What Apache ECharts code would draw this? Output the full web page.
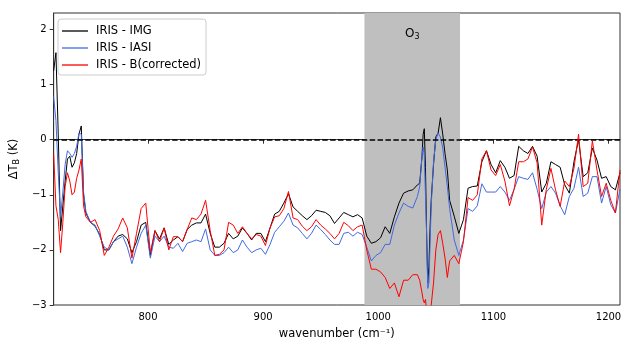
<!DOCTYPE html>
<html>
<head>
<meta charset="utf-8">
<script src="https://cdn.jsdelivr.net/npm/echarts@6/dist/echarts.min.js"></script>
<style>
html, body { margin: 0; padding: 0; background: #fff; }
#main { width: 635px; height: 353px; }
</style>
</head>
<body>
<div id="main"></div>
<script>
// wavenumber grid (cm-1), finer where the spectrum has sharp features
var wavenumber = [718,720,722,724,726,728,730,732,734,736,738,740,742,744,746,
	750,754,758,762,766,770,774,778,782,786,790,794,798,802,806,810,814,818,822,826,
	830,834,838,842,846,850,854,858,862,866,870,874,878,882,886,890,894,898,902,906,
	910,914,918,922,926,930,934,938,942,946,950,954,958,962,966,970,974,978,982,986,
	990,994,998,1002,1006,1010,1014,1018,1022,1026,1030,1034,
	1036,1038,1039,1040,1041,1042,1043,1044,1045,1046,1048,1050,1052,1054,1056,1058,1060,1062,
	1066,1070,1074,1078,1082,1086,1090,1094,1098,1102,1106,1110,1114,1118,1122,1126,1130,1134,
	1138,1142,1146,1150,1154,1158,1162,1166,1170,1174,1178,1182,1186,1190,1194,1198,1202,1206,1210];

var irisImg = [1.25,1.58,0.1,-1.65,-1.2,-0.75,-0.35,-0.3,-0.5,-0.42,-0.25,0.1,0.25,-1.0,-1.33,
	-1.5,-1.57,-1.72,-2.0,-2.0,-1.85,-1.75,-1.72,-1.8,-2.05,-1.85,-1.55,-1.5,-2.1,-1.65,-1.8,-1.6,-1.9,-1.82,-1.76,
	-1.85,-1.63,-1.55,-1.51,-1.51,-1.35,-1.7,-1.95,-1.95,-1.88,-1.7,-1.8,-1.75,-1.6,-1.7,-1.82,-1.7,-1.7,-1.85,-1.6,
	-1.35,-1.3,-1.15,-0.98,-1.22,-1.3,-1.38,-1.45,-1.38,-1.28,-1.3,-1.32,-1.38,-1.52,-1.42,-1.32,-1.36,-1.4,-1.36,-1.42,
	-1.75,-1.88,-1.85,-1.78,-1.58,-1.7,-1.4,-1.15,-0.97,-0.93,-0.91,-0.82,
	-0.79,-0.3,0.1,0.2,-0.5,-1.7,-2.6,-2.3,-1.6,-1.1,-0.45,0.05,0.12,0.4,0.1,-0.25,-0.55,-1.1,
	-1.39,-1.7,-1.45,-0.88,-0.85,-0.84,-0.4,-0.2,-0.45,-0.6,-0.38,-0.5,-0.7,-0.65,-0.12,-0.2,-0.25,-0.12,
	-0.3,-0.95,-0.79,-0.4,-0.45,-0.5,-0.82,-0.97,-0.4,0.0,-0.67,-0.6,-0.15,-0.37,-0.7,-0.67,-0.85,-0.91,-0.6];

var irisIasi = [0.78,0.35,-0.6,-1.4,-0.95,-0.45,-0.2,-0.25,-0.32,-0.25,-0.12,0.12,0.1,-0.95,-1.3,
	-1.5,-1.55,-1.75,-1.95,-2.0,-1.85,-1.8,-1.75,-1.95,-2.25,-1.95,-1.7,-1.55,-2.15,-1.75,-1.85,-1.75,-1.95,-1.97,-1.88,
	-2.03,-1.88,-1.85,-1.82,-1.85,-1.62,-2.0,-2.1,-2.1,-2.05,-1.95,-2.05,-2.0,-1.82,-1.95,-2.05,-2.0,-1.97,-2.08,-1.9,
	-1.68,-1.58,-1.48,-1.33,-1.55,-1.6,-1.7,-1.8,-1.7,-1.55,-1.63,-1.72,-1.82,-1.9,-1.9,-1.7,-1.68,-1.75,-1.68,-1.72,
	-1.95,-2.2,-2.1,-2.05,-1.9,-1.9,-1.55,-1.33,-1.15,-1.21,-1.24,-1.03,
	-0.85,-0.3,-0.13,-0.3,-1.0,-1.7,-2.7,-2.6,-1.9,-1.2,-0.4,0.0,0.12,0.05,-0.15,-0.5,-0.85,-1.25,
	-1.82,-2.1,-1.82,-1.25,-1.3,-1.2,-0.8,-0.95,-0.95,-0.95,-0.85,-0.95,-1.1,-0.9,-0.67,-0.7,-0.72,-0.6,
	-0.9,-1.25,-0.95,-0.85,-0.97,-1.2,-1.36,-1.03,-0.88,-0.5,-1.03,-0.97,-0.67,-0.67,-1.15,-0.85,-1.18,-1.33,-0.9];

var irisB = [-0.25,-1.2,-1.45,-2.05,-1.5,-0.85,-0.6,-0.75,-1.0,-0.95,-0.7,-0.55,-0.35,-1.2,-1.4,
	-1.5,-1.45,-1.65,-2.1,-1.95,-1.75,-1.62,-1.42,-1.6,-2.15,-1.7,-1.25,-1.15,-2.05,-1.65,-1.85,-1.6,-2.0,-1.76,-1.76,
	-1.85,-1.63,-1.42,-1.45,-1.35,-1.1,-1.65,-2.1,-2.08,-2.0,-1.5,-1.55,-1.7,-1.58,-1.7,-1.8,-1.72,-1.75,-1.92,-1.6,
	-1.4,-1.38,-1.25,-0.94,-1.42,-1.45,-1.57,-1.65,-1.58,-1.45,-1.55,-1.62,-1.7,-1.8,-1.7,-1.5,-1.56,-1.65,-1.58,-1.55,
	-2.0,-2.35,-2.35,-2.4,-2.5,-2.7,-2.6,-2.85,-2.55,-2.55,-2.45,-2.45,
	-2.55,-2.78,-2.9,-2.96,-2.9,-3.1,-3.15,-3.15,-3.1,-3.0,-2.6,-2.0,-1.72,-1.65,-1.88,-2.15,-2.5,-2.2,
	-2.1,-2.25,-1.85,-1.05,-1.1,-1.0,-0.35,-0.2,-0.55,-0.65,-0.45,-0.75,-1.2,-0.9,-0.4,-0.4,-0.35,-0.13,
	-0.42,-1.55,-0.9,-0.52,-0.91,-1.21,-0.75,-0.85,-0.52,0.1,-0.85,-0.79,-0.02,-0.55,-1.03,-0.79,-1.1,-1.33,-0.55];

var seriesNames = ['IRIS - IMG', 'IRIS - IASI', 'IRIS - B(corrected)'];
var seriesColors = ['#000000', '#4169e1', '#ff0000'];
var o3Band = [988, 1071];
var xTicks = [800, 900, 1000, 1100, 1200];
var yTicks = [-3, -2, -1, 0, 1, 2];

function pairs(vals) {
	return wavenumber.map(function (w, i) { return [w, vals[i]]; });
}

function minus(v) {
	return String(v).replace('-', '\u2212');
}

var chart = echarts.init(document.getElementById('main'), null, { renderer: 'canvas' });

var font = 'DejaVu Sans';
var allVals = [irisImg, irisIasi, irisB];

var series = allVals.map(function (vals, i) {
	return {
		name: seriesNames[i],
		type: 'line',
		data: pairs(vals),
		symbol: 'none',
		color: seriesColors[i],
		lineStyle: { width: 1, color: seriesColors[i] },
		z: 3 + i
	};
});

// O3 band + zero line hung on the first series
series[0].markArea = {
	silent: true,
	itemStyle: { color: '#bfbfbf' },
	label: {
		show: true,
		position: 'insideTop',
		distance: 13,
		fontFamily: font,
		fontSize: 12,
		color: '#000',
		formatter: 'O{s|3}',
		rich: { s: { fontSize: 8, fontFamily: font, padding: [7, 0, 0, 0] } }
	},
	data: [[{ xAxis: o3Band[0] }, { xAxis: o3Band[1] }]]
};
series[0].markLine = {
	silent: true,
	symbol: 'none',
	label: { show: false },
	lineStyle: { color: '#000', type: [5.5, 2.4], width: 1.5 },
	data: [{ yAxis: 0 }]
};

var option = {
	backgroundColor: '#fff',
	animation: false,
	grid: {
		left: 52, right: 15, top: 13, bottom: 48,
		show: true, borderColor: '#333', borderWidth: 1, backgroundColor: 'transparent'
	},
	legend: {
		left: 58, top: 19,
		orient: 'vertical',
		data: seriesNames,
		icon: 'rect',
		itemWidth: 26, itemHeight: 1.3, itemGap: 4,
		padding: [5.5, 5, 3.5, 4],
		backgroundColor: 'rgba(255,255,255,0.8)',
		borderColor: '#cccccc', borderWidth: 1, borderRadius: 3,
		textStyle: { fontFamily: font, fontSize: 11.5, color: '#000', padding: [0, 0, 0, 3], lineHeight: 13 }
	},
	xAxis: {
		type: 'value',
		min: 718, max: 1210,
		name: 'wavenumber (cm\u207b\u00b9)',
		nameLocation: 'middle',
		nameGap: 23,
		nameTextStyle: { fontFamily: font, fontSize: 11.5, color: '#000' },
		axisLine: { show: true, lineStyle: { color: '#333', width: 1 } },
		axisTick: { show: true, length: 4, customValues: xTicks, lineStyle: { color: '#333' } },
		axisLabel: {
			customValues: xTicks, margin: 7, fontFamily: font, fontSize: 10, color: '#000',
			formatter: function (v) { return String(v); }
		},
		splitLine: { show: false }
	},
	yAxis: {
		type: 'value',
		min: -3, max: 2.3,
		name: '{a|\u0394T}{b|B}{a| (K)}',
		nameLocation: 'middle',
		nameGap: 21,
		nameTextStyle: {
			fontFamily: font, fontSize: 11.5, color: '#000',
			rich: {
				a: { fontFamily: font, fontSize: 11.5, color: '#000' },
				b: { fontFamily: font, fontSize: 8, color: '#000', padding: [6, 0, 0, 0] }
			}
		},
		axisLine: { show: true, lineStyle: { color: '#333', width: 1 } },
		axisTick: { show: true, length: 4, customValues: yTicks, lineStyle: { color: '#333' } },
		axisLabel: {
			customValues: yTicks, margin: 7, fontFamily: font, fontSize: 10, color: '#000',
			formatter: function (v) { return minus(v); }
		},
		splitLine: { show: false }
	},
	series: series
};

chart.setOption(option);
</script>
</body>
</html>
